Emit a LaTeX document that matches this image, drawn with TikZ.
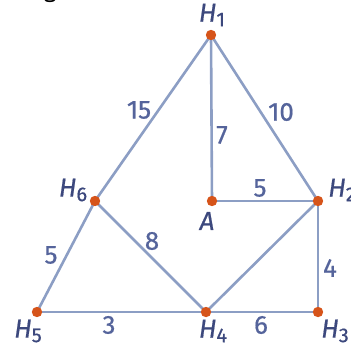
\documentclass[tikz,border=0pt]{standalone}
\usepackage{fontspec}
\setmainfont{Fira Sans}
\newfontfamily\lblfont{Fira Sans}[FakeBold=0.6]
\definecolor{edgecol}{RGB}{140,158,196}
\definecolor{dotcol}{RGB}{214,84,26}
\definecolor{vcol}{RGB}{60,72,125}
\definecolor{wcol}{RGB}{85,100,155}
\newcommand{\lowsub}[1]{\raisebox{-4.5pt}{\fontsize{20}{20}\selectfont\upshape #1}}
\begin{document}
\begin{tikzpicture}[x=1pt,y=-1pt,
  edgeline/.style={draw=edgecol, line width=2.6pt},
  vdot/.style={circle, inner sep=0pt, minimum size=10pt},
  vlabel/.style={text=vcol, font=\lblfont\fontsize{26}{26}\selectfont\itshape, inner sep=0pt},
  wlabel/.style={text=wcol, font=\lblfont\fontsize{26}{26}\selectfont, inner sep=0pt}]
\useasboundingbox (0,0) rectangle (351,349);
\node[anchor=south, inner sep=0pt, font=\fontsize{24}{24}\selectfont] (gfrag) at (50,3) {g};
\node[vdot] (H1) at (211,35) {};
\node[vdot] (H6) at (95,201) {};
\node[vdot] (A) at (212,201) {};
\node[vdot] (H2) at (318,201) {};
\node[vdot] (H5) at (37,312) {};
\node[vdot] (H4) at (206,312) {};
\node[vdot] (H3) at (318,312) {};
\draw[edgeline] (H1.center) -- (H6.center);
\draw[edgeline] (H1.center) -- (A.center);
\draw[edgeline] (H1.center) -- (H2.center);
\draw[edgeline] (A.center) -- (H2.center);
\draw[edgeline] (H6.center) -- (H5.center);
\draw[edgeline] (H6.center) -- (H4.center);
\draw[edgeline] (H2.center) -- (H4.center);
\draw[edgeline] (H2.center) -- (H3.center);
\draw[edgeline] (H5.center) -- (H4.center);
\draw[edgeline] (H4.center) -- (H3.center);
\foreach \v in {H1,H6,A,H2,H5,H4,H3} \fill[dotcol] (\v.center) circle (5.2pt);
\node[vlabel] (lH1) at (212,15) {H\lowsub{1}};
\node[vlabel] (lH6) at (73,190) {H\lowsub{6}};
\node[vlabel] (lA) at (207,221) {A};
\node[vlabel] (lH2) at (342,190) {H\lowsub{2}};
\node[vlabel] (lH5) at (28,331) {H\lowsub{5}};
\node[vlabel] (lH4) at (213,331) {H\lowsub{4}};
\node[vlabel] (lH3) at (335,331) {H\lowsub{3}};
\node[wlabel] (w15) at (139,110) {15};
\node[wlabel] (w10) at (281,112) {10};
\node[wlabel] (w7) at (222,135) {7};
\node[wlabel] (w5a) at (260,188) {5};
\node[wlabel] (w8) at (152,241) {8};
\node[wlabel] (w5b) at (51,255) {5};
\node[wlabel] (w4) at (330,268) {4};
\node[wlabel] (w3) at (109,325) {3};
\node[wlabel] (w6) at (261,325) {6};
\end{tikzpicture}
\end{document}
